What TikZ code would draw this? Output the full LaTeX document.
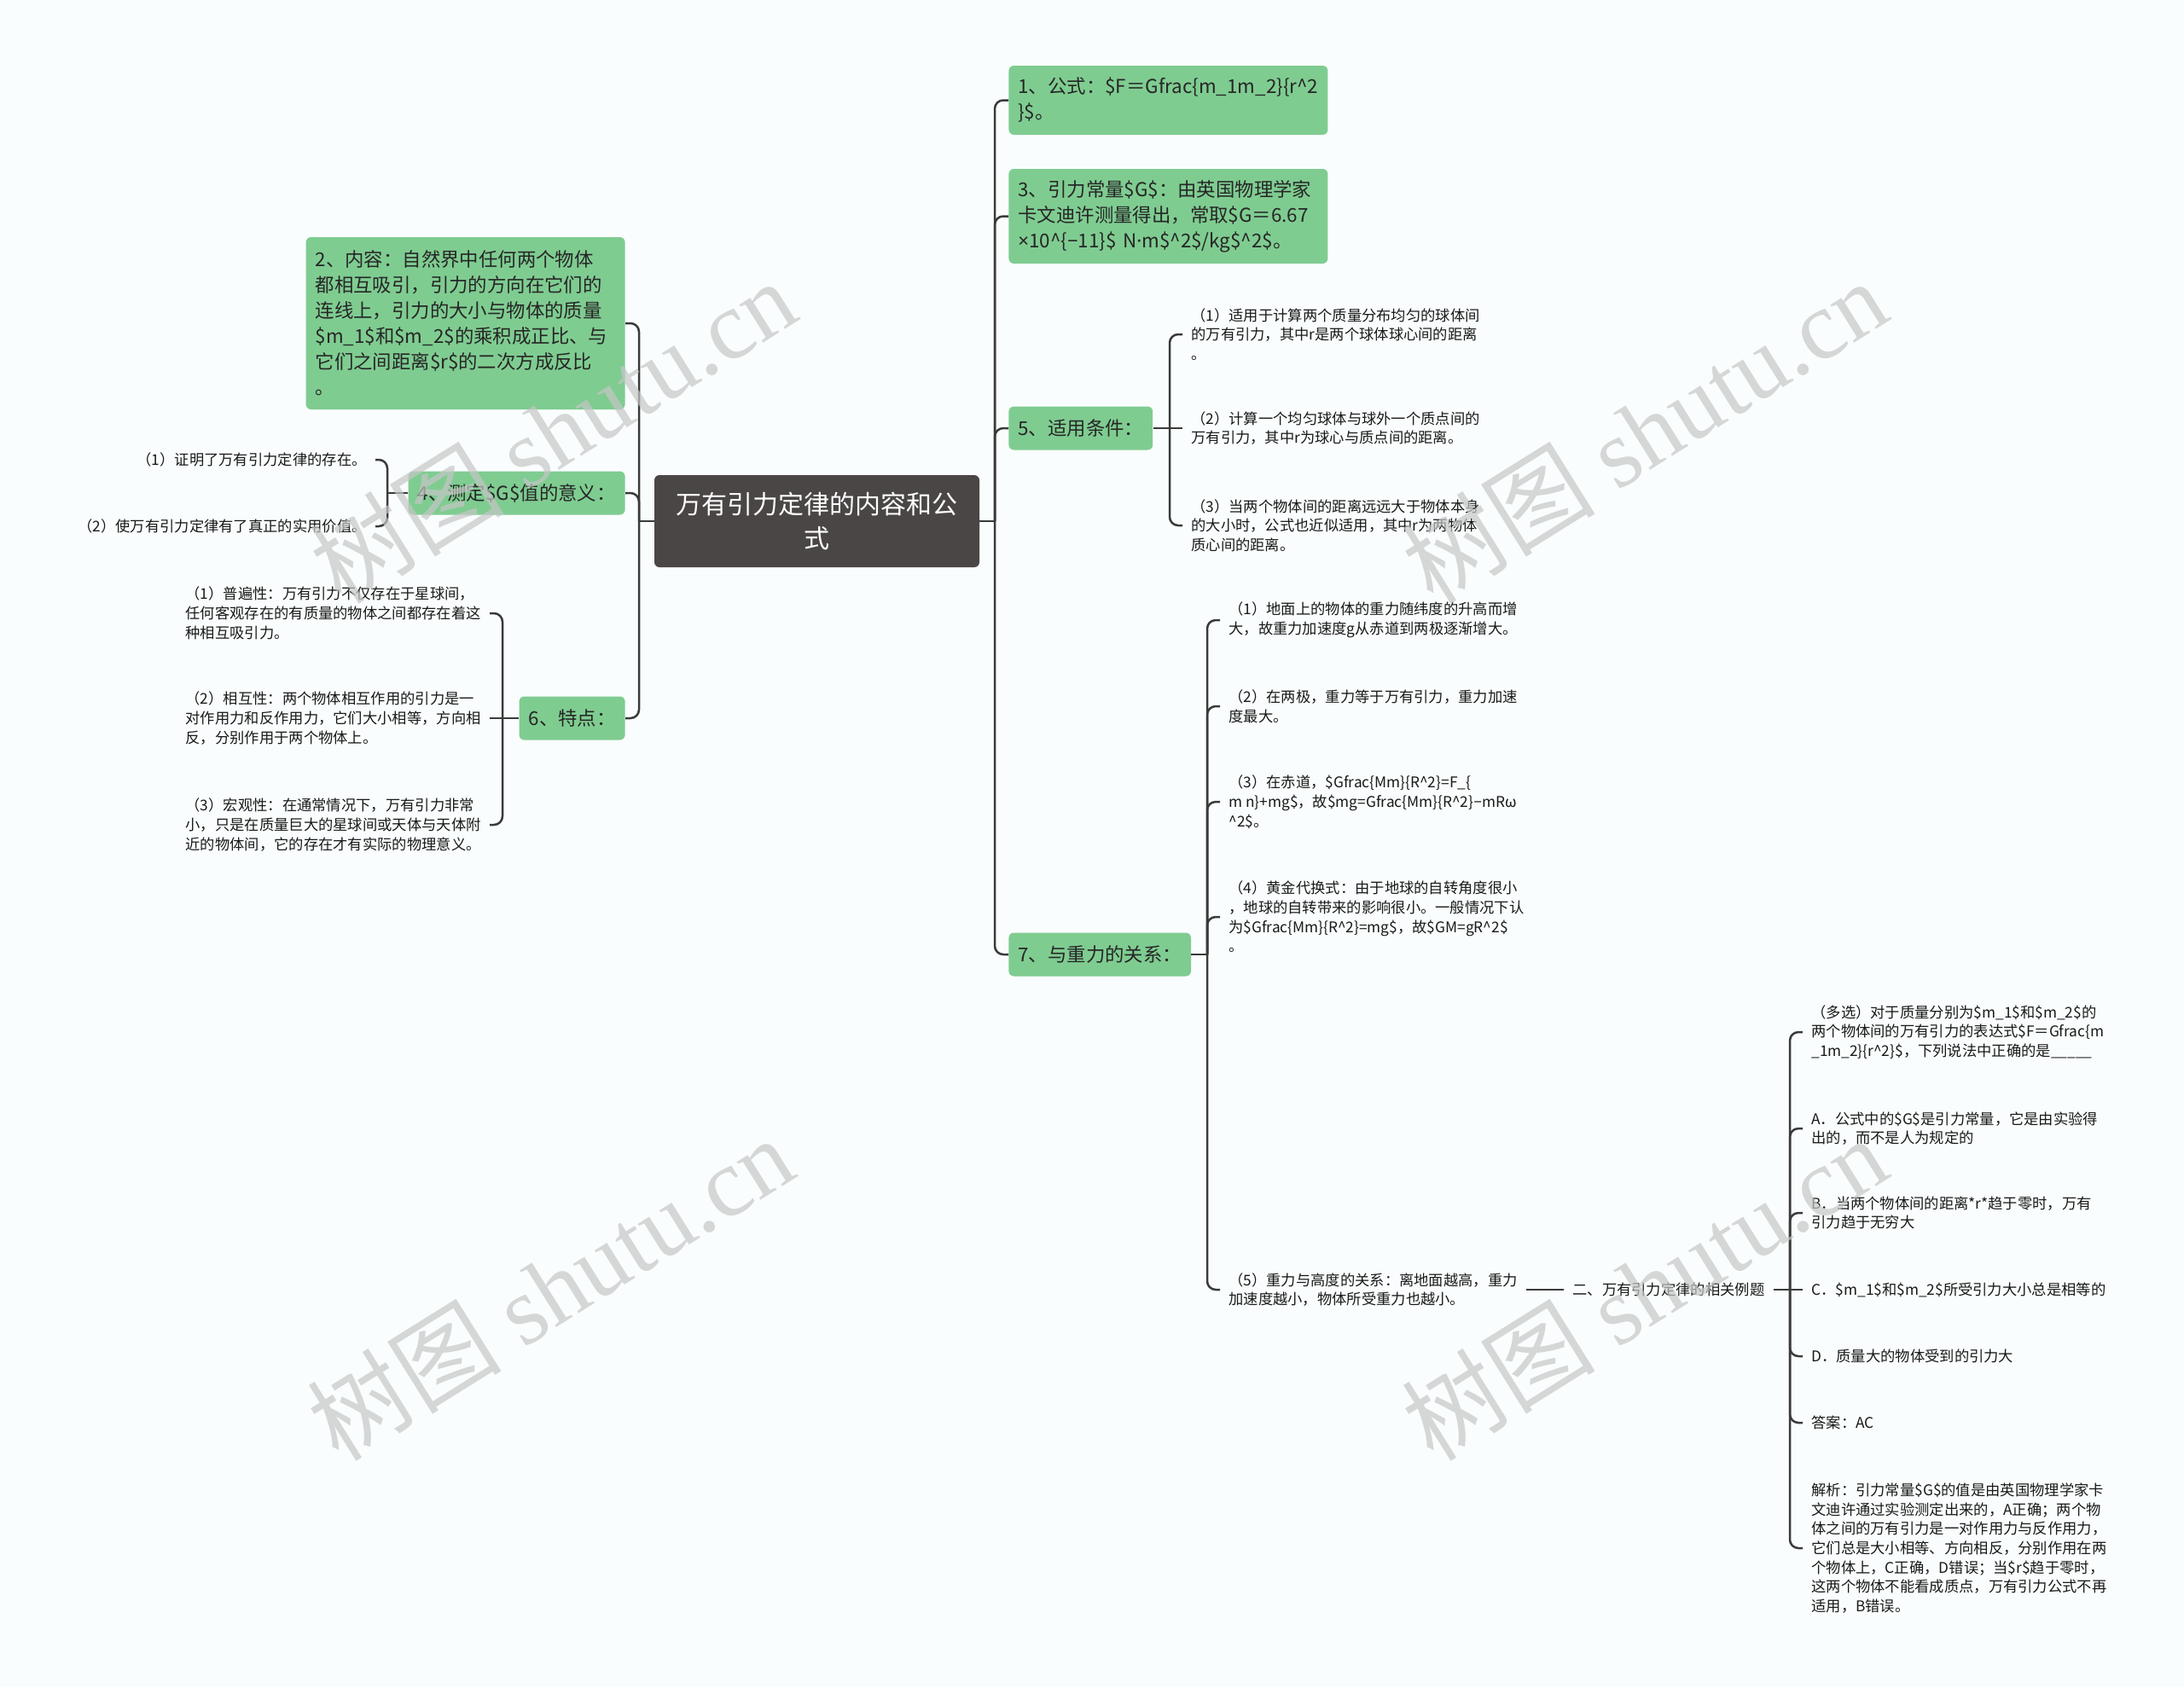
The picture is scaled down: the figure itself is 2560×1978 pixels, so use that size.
\documentclass[tikz,border=0pt]{standalone}
\usepackage{fontspec}
\setmainfont{Noto Sans CJK SC}
\newfontfamily\wmserif{Liberation Serif}
\newfontfamily\latinsans{Noto Sans}
\usepackage{tikz}
\usetikzlibrary{positioning, calc}

\definecolor{topicgreen}{RGB}{127,204,145}
\definecolor{rootgray}{RGB}{75,70,70}
\definecolor{linkgray}{RGB}{58,58,58}
\definecolor{paper}{RGB}{250,253,253}

\newcommand{\leaffont}{\fontsize{8.65pt}{11.35pt}\selectfont}
\newcommand{\topicfont}{\fontsize{11.2pt}{15pt}\selectfont}
\newcommand{\rootfont}{\fontsize{15pt}{20pt}\selectfont}

\begin{document}
\begin{tikzpicture}[x=0.5pt, y=-0.5pt,
    central/.style={rectangle, fill=rootgray, text=white, font=\rootfont, rounded corners=3pt, text width=165pt, align=center, minimum width=190.5pt, minimum height=54pt},
    topic/.style={rectangle, fill=topicgreen, text=black!85, font=\topicfont, rounded corners=3pt, align=left, inner xsep=5.5pt, inner ysep=0pt, minimum height=25.5pt},
    widetopic/.style={topic, text width=176pt},
    leaf/.style={font=\leaffont, text=black!90, align=left, inner xsep=5pt, inner ysep=2pt},
    link/.style={draw=linkgray, line width=1.25pt, rounded corners=5pt},
    wmtext/.style={text=gray!45, opacity=0.7, rotate=32, font=\fontsize{57pt}{57pt}\selectfont}]

    \useasboundingbox (0,0) rectangle (2560,1978);
    \fill[paper] (0,0) rectangle (2560,1978);

    % Central topic
    \node[central] (root) at (957.5,611) {万有引力定律的内容和公\\式};

    % Right branches
    \node[widetopic, minimum height=40.5pt, anchor=west] (formula) at (1182,117.5) {1、公式：\$F＝Gfrac\{m\_1m\_2\}\{r\textasciicircum 2\\ \}\$。};
    \node[widetopic, minimum height=55.5pt, anchor=west] (constG) at (1182,253.5) {3、引力常量\$G\$：由英国物理学家\\卡文迪许测量得出，常取\$G＝6.67\\{\latinsans ×}10\textasciicircum\{{\latinsans −}11\}\$ N{\latinsans ·}m\$\textasciicircum 2\$/kg\$\textasciicircum 2\$。};
    \node[topic, anchor=west] (cond) at (1182,502) {5、适用条件：};
    \node[topic, anchor=west] (gravity) at (1182,1119) {7、与重力的关系：};

    % Left branches
    \node[widetopic, minimum height=101pt, anchor=east] (content) at (733,379) {2、内容：自然界中任何两个物体\\都相互吸引，引力的方向在它们的\\连线上，引力的大小与物体的质量\\\$m\_1\$和\$m\_2\$的乘积成正比、与\\它们之间距离\$r\$的二次方成反比\\。};
    \node[topic, anchor=east] (measure) at (733,578) {4、测定\$G\$值的意义：};
    \node[topic, anchor=east] (traits) at (733,842) {6、特点：};

    % Conditions
    \node[leaf, anchor=west] (cond1) at (1386,392) {（1）适用于计算两个质量分布均匀的球体间\\的万有引力，其中r是两个球体球心间的距离\\。};
    \node[leaf, anchor=west] (cond2) at (1386,502) {（2）计算一个均匀球体与球外一个质点间的\\万有引力，其中r为球心与质点间的距离。};
    \node[leaf, anchor=west] (cond3) at (1386,616) {（3）当两个物体间的距离远远大于物体本身\\的大小时，公式也近似适用，其中r为两物体\\质心间的距离。};

    % Relation to gravity
    \node[leaf, anchor=west] (grav1) at (1430,727) {（1）地面上的物体的重力随纬度的升高而增\\大，故重力加速度g从赤道到两极逐渐增大。};
    \node[leaf, anchor=west] (grav2) at (1430,828) {（2）在两极，重力等于万有引力，重力加速\\度最大。};
    \node[leaf, anchor=west] (grav3) at (1430,940) {（3）在赤道，\$Gfrac\{Mm\}\{R\textasciicircum 2\}=F\_\{\\m n\}+mg\$，故\$mg=Gfrac\{Mm\}\{R\textasciicircum 2\}{\latinsans −}mRω\\\textasciicircum 2\$。};
    \node[leaf, anchor=west] (grav4) at (1430,1075) {（4）黄金代换式：由于地球的自转角度很小\\，地球的自转带来的影响很小。一般情况下认\\为\$Gfrac\{Mm\}\{R\textasciicircum 2\}=mg\$，故\$GM=gR\textasciicircum 2\$\\。};
    \node[leaf, anchor=west] (grav5) at (1430,1512) {（5）重力与高度的关系：离地面越高，重力\\加速度越小，物体所受重力也越小。};
    \node[leaf, anchor=west] (examples) at (1833,1512) {二、万有引力定律的相关例题};

    % Example question
    \node[leaf, anchor=west] (q) at (2113,1210) {（多选）对于质量分别为\$m\_1\$和\$m\_2\$的\\两个物体间的万有引力的表达式\$F＝Gfrac\{m\\\_1m\_2\}\{r\textasciicircum 2\}\$，下列说法中正确的是\_\_\_\_\_};
    \node[leaf, anchor=west] (optA) at (2113,1323) {A．公式中的\$G\$是引力常量，它是由实验得\\出的，而不是人为规定的};
    \node[leaf, anchor=west] (optB) at (2113,1422) {B．当两个物体间的距离*r*趋于零时，万有\\引力趋于无穷大};
    \node[leaf, anchor=west] (optC) at (2113,1512) {C．\$m\_1\$和\$m\_2\$所受引力大小总是相等的};
    \node[leaf, anchor=west] (optD) at (2113,1590) {D．质量大的物体受到的引力大};
    \node[leaf, anchor=west] (answer) at (2113,1668) {答案：AC};
    \node[leaf, anchor=west] (analysis) at (2113,1815) {解析：引力常量\$G\$的值是由英国物理学家卡\\文迪许通过实验测定出来的，A正确；两个物\\体之间的万有引力是一对作用力与反作用力，\\它们总是大小相等、方向相反，分别作用在两\\个物体上，C正确，D错误；当\$r\$趋于零时，\\这两个物体不能看成质点，万有引力公式不再\\适用，B错误。};

    % Meaning of G
    \node[leaf, align=right, anchor=east] (sig1) at (440,539) {（1）证明了万有引力定律的存在。};
    \node[leaf, align=right, anchor=east] (sig2) at (440,617) {（2）使万有引力定律有了真正的实用价值。};

    % Features
    \node[leaf, anchor=east] (trait1) at (574,719) {（1）普遍性：万有引力不仅存在于星球间，\\任何客观存在的有质量的物体之间都存在着这\\种相互吸引力。};
    \node[leaf, anchor=east] (trait2) at (574,842) {（2）相互性：两个物体相互作用的引力是一\\对作用力和反作用力，它们大小相等，方向相\\反，分别作用于两个物体上。};
    \node[leaf, anchor=east] (trait3) at (574,967) {（3）宏观性：在通常情况下，万有引力非常\\小，只是在质量巨大的星球间或天体与天体附\\近的物体间，它的存在才有实际的物理意义。};

    % Junctions
    \coordinate (rj) at (1166,611);
    \coordinate (lj) at (749,611);
    \coordinate (cj) at (1371,502);
    \coordinate (gj) at (1415,1119);
    \coordinate (ej) at (2098,1512);
    \coordinate (mj) at (454,578);
    \coordinate (tj) at (589,842);

    % Connectors
    \draw[link] (root.east) -- (rj);
    \foreach \t in {formula,constG,cond,gravity}
        \draw[link] (rj) |- (\t.west);
    \draw[link] (root.west) -- (lj);
    \foreach \t in {content,measure,traits}
        \draw[link] (lj) |- (\t.east);

    \draw[link] (cond.east) -- (cond2.west);
    \foreach \t in {cond1,cond3}
        \draw[link] (cj) |- (\t.west);

    \draw[link] (gravity.east) -- (gj);
    \foreach \t in {grav1,grav2,grav3,grav4,grav5}
        \draw[link] (gj) |- (\t.west);
    \draw[link] (grav5.east) -- (examples.west);

    \draw[link] (examples.east) -- (optC.west);
    \foreach \t in {q,optA,optB,optD,answer,analysis}
        \draw[link] (ej) |- (\t.west);

    \draw[link] (measure.west) -- (mj);
    \foreach \t in {sig1,sig2}
        \draw[link] (mj) |- (\t.east);

    \draw[link] (traits.west) -- (trait2.east);
    \foreach \t in {trait1,trait3}
        \draw[link] (tj) |- (\t.east);

    % Watermarks
    \node[wmtext] (wm1) at (648,505) {树图 {\wmserif shutu.cn}};
    \node[wmtext] (wm2) at (1927,505) {树图 {\wmserif shutu.cn}};
    \node[wmtext] (wm3) at (645,1510) {树图 {\wmserif shutu.cn}};
    \node[wmtext] (wm4) at (1927,1510) {树图 {\wmserif shutu.cn}};

\end{tikzpicture}
\end{document}
